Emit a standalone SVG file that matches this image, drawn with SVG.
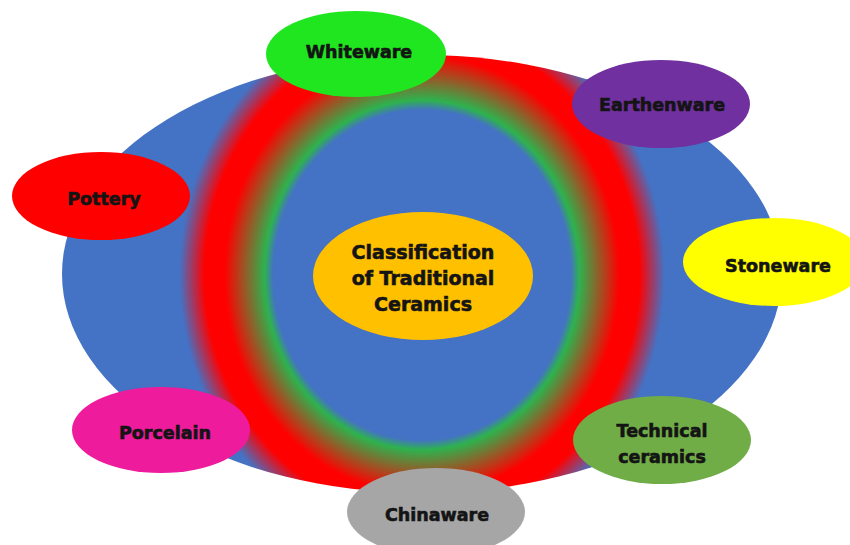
<svg xmlns="http://www.w3.org/2000/svg" width="850" height="545" viewBox="0 0 850 545">
  <defs>
    <radialGradient id="ring" gradientUnits="userSpaceOnUse" cx="422" cy="275" r="250" gradientTransform="translate(422 275) scale(1 1.11) translate(-422 -275)">
      <stop offset="0" stop-color="#4472C4"/>
      <stop offset="0.595" stop-color="#4472C4"/>
      <stop offset="0.63" stop-color="#2EB24E"/>
      <stop offset="0.79" stop-color="#FF0000"/>
      <stop offset="0.87" stop-color="#FF0000"/>
      <stop offset="0.97" stop-color="#4472C4"/>
      <stop offset="1" stop-color="#4472C4"/>
    </radialGradient>
  </defs>
  <style>
    .lbl { font-family: "DejaVu Sans", "Liberation Sans", sans-serif; font-weight: bold; font-size: 17.5px; fill: #141414; stroke: #141414; stroke-width: 0.6px; text-anchor: middle; }
    .ctr { font-size: 19px; }
  </style>
  <rect width="850" height="545" fill="#FFFFFF"/>
  <g id="background">
    <ellipse cx="422" cy="274" rx="360" ry="219" fill="url(#ring)"/>
  </g>
  <g id="connectors"></g>
  <g id="center">
    <ellipse cx="423" cy="276" rx="110" ry="64" fill="#FFC000"/>
    <text class="lbl ctr" x="423" y="259">Classification</text>
    <text class="lbl ctr" x="423" y="285">of Traditional</text>
    <text class="lbl ctr" x="423" y="311">Ceramics</text>
  </g>
  <g id="whiteware">
    <ellipse cx="356" cy="54" rx="90" ry="43" fill="#20E620"/>
    <text class="lbl" x="359" y="58">Whiteware</text>
  </g>
  <g id="earthenware">
    <ellipse cx="661" cy="104" rx="89" ry="44" fill="#7030A0"/>
    <text class="lbl" x="662" y="111">Earthenware</text>
  </g>
  <g id="pottery">
    <ellipse cx="101" cy="196" rx="89" ry="44" fill="#FF0000"/>
    <text class="lbl" x="104" y="205">Pottery</text>
  </g>
  <g id="stoneware">
    <ellipse cx="774" cy="262" rx="91" ry="44" fill="#FFFF00"/>
    <text class="lbl" x="778" y="272">Stoneware</text>
  </g>
  <g id="porcelain">
    <ellipse cx="161" cy="430" rx="89" ry="43" fill="#EE1C9C"/>
    <text class="lbl" x="165" y="439">Porcelain</text>
  </g>
  <g id="technical">
    <ellipse cx="662" cy="440" rx="89" ry="44" fill="#70AD47"/>
    <text class="lbl" x="662" y="437">Technical</text>
    <text class="lbl" x="662" y="463">ceramics</text>
  </g>
  <g id="chinaware">
    <ellipse cx="436" cy="512" rx="89" ry="44" fill="#A6A6A6"/>
    <text class="lbl" x="437" y="521">Chinaware</text>
  </g>
</svg>
